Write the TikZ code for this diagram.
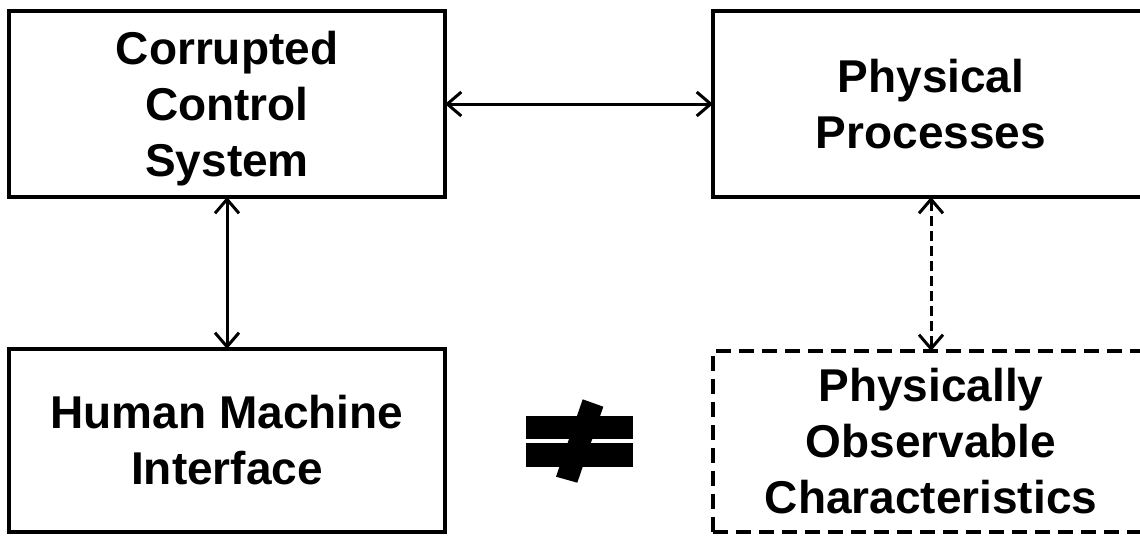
\documentclass[tikz,border=0pt]{standalone}
\usepackage{fontspec}
\setmainfont{Liberation Sans}
\usepackage{tikz}
\usetikzlibrary{arrows.meta}

\begin{document}
\begin{tikzpicture}[x=1pt,y=-1pt,
  >={Straight Barb[length=14pt,width=24pt]},
  blockbox/.style={draw,line width=4.5pt,outer sep=0pt,minimum width=436pt,
    align=center,font=\fontsize{46}{56}\selectfont\bfseries},
  dashbox/.style={blockbox,dash pattern=on 15pt off 8pt},
  link/.style={<->,line width=3pt}]
%%Frame
\useasboundingbox (0,0) rectangle (1140,536);
\clip (0,0) rectangle (1140,536);
%%Blocks
\node[blockbox,minimum height=186pt,text depth=0pt] (ccs) at (227,104) {Corrupted\\Control\\System};
\node[blockbox,minimum height=186pt] (pp) at (931,104) {Physical\\Processes};
\node[blockbox,minimum height=183pt] (hmi) at (227,440.5) {Human Machine\\Interface};
\node[dashbox,minimum height=181pt] (poc) at (931,441.5) {Physically\\Observable\\Characteristics};
%%Links
\draw[link] (ccs) -- (pp);
\draw[link] (ccs) -- (hmi);
\draw[link,dash pattern=on 10pt off 5pt] (pp) -- (poc);
%%Not equal
\fill (526,416) rectangle (633,439);
\fill (526,443) rectangle (633,467);
\fill (582.7,399.3) -- (603.3,406.7) -- (577.3,482.7) -- (556,476.7) -- cycle;
\end{tikzpicture}
\end{document}
